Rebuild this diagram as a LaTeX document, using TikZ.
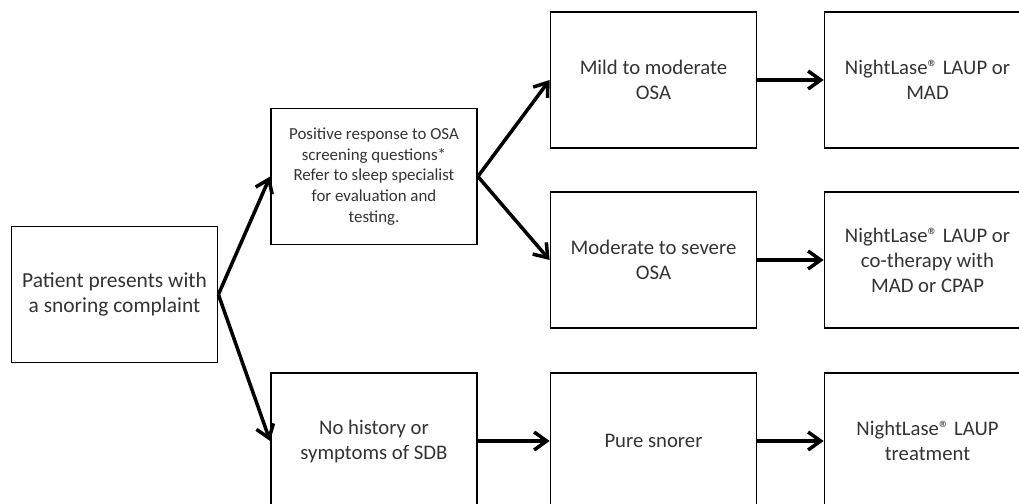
\documentclass[tikz,border=0pt]{standalone}
\usepackage{fontspec}
\setmainfont{Carlito}
\usetikzlibrary{arrows.meta}
\begin{document}
\begin{tikzpicture}[
  box/.style={rectangle, draw, line width=1pt, minimum width=4.12cm, minimum height=2.72cm,
    align=center, text=black!80, font=\fontsize{11.8}{14.2}\selectfont},
  flow/.style={-{Straight Barb[length=2.5mm,width=3.6mm]}, line width=2pt},
  node distance=5.19cm
]
\useasboundingbox (-2.29,-4.19) rectangle (18.09,5.89);
\clip (-2.29,-4.19) rectangle (18.09,5.89);

\node[box, font=\fontsize{12.2}{14.6}\selectfont] (patient) {Patient presents with\\a snoring complaint};
\node[box, right of=patient, yshift=2.36cm, font=\fontsize{9.6}{11.8}\selectfont] (screen) {Positive response to OSA\\screening questions*\\Refer to sleep specialist\\for evaluation and\\testing.};
\node[box, right of=patient, yshift=-2.93cm] (nohist) {No history or\\symptoms of SDB};

\node[box, right of=nohist, node distance=5.59cm] (pure) {Pure snorer};
\node[box, above of=pure, node distance=3.62cm] (severe) {Moderate to severe\\OSA};
\node[box, above of=severe, node distance=3.6cm] (mild) {Mild to moderate\\OSA};

\node[box, right of=mild, node distance=5.48cm] (laupmad) {NightLase® LAUP or\\MAD};
\node[box, right of=severe, node distance=5.48cm] (cotherapy) {NightLase® LAUP or\\co-therapy with\\MAD or CPAP};
\node[box, right of=pure, node distance=5.48cm] (laup) {NightLase® LAUP\\treatment};

\draw[flow] (patient.east) -- (screen.west);
\draw[flow] (patient.east) -- (nohist.west);
\draw[flow] (screen.east) -- (mild.west);
\draw[flow] (screen.east) -- (severe.west);
\draw[flow] (mild) -- (laupmad);
\draw[flow] (severe) -- (cotherapy);
\draw[flow] (nohist) -- (pure);
\draw[flow] (pure) -- (laup);
\end{tikzpicture}
\end{document}
